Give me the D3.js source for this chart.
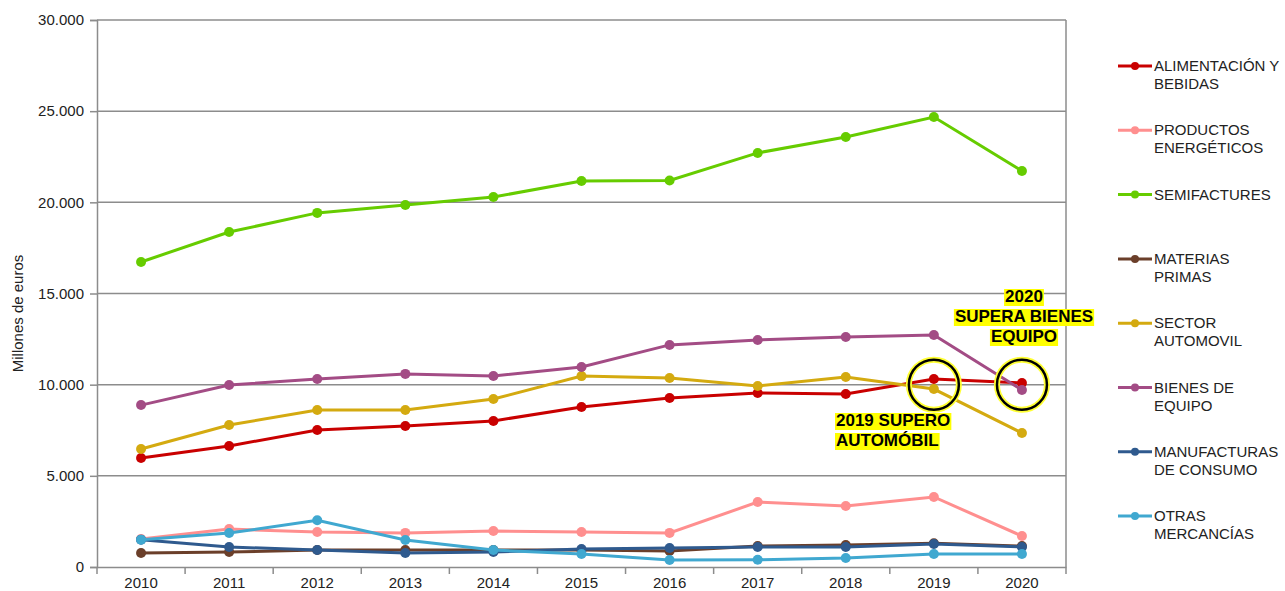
<!DOCTYPE html>
<meta charset="utf-8" />
<head>
  <style>
    body { margin: 0; background: #fff; }
    text { font-family: "Liberation Sans", Arial, sans-serif; }
    .grid line { stroke: #8c8c8c; stroke-width: 1.5; }
    .axis path, .axis line { stroke: #8c8c8c; stroke-width: 1.5; }
    .axis text { font-size: 15px; fill: #222; }
    .legend text { font-size: 15px; fill: #222; }
    .note text { font-size: 17px; font-weight: bold; fill: #000; }
  </style>
  <script src="https://d3js.org/d3.v7.min.js"></script>
</head>
<body>
  <svg width="1285" height="591"></svg>
  <script>
    const years = ["2010", "2011", "2012", "2013", "2014", "2015", "2016", "2017", "2018", "2019", "2020"];
    const yTicks = [0, 5000, 10000, 15000, 20000, 25000, 30000];

    const alimentacion = [5980, 6640, 7510, 7730, 8010, 8780, 9270, 9540, 9490, 10310, 10090];
    const productos = [1540, 2080, 1920, 1870, 1970, 1920, 1870, 3560, 3350, 3840, 1700];
    const semifactures = [16730, 18370, 19420, 19850, 20290, 21170, 21200, 22710, 23580, 24680, 21720];
    const materias = [770, 820, 930, 930, 930, 930, 880, 1150, 1200, 1300, 1150];
    const automovil = [6470, 7790, 8610, 8610, 9210, 10470, 10370, 9930, 10420, 9760, 7350];
    const bienes = [8880, 9980, 10310, 10590, 10480, 10970, 12180, 12450, 12610, 12720, 9710];
    const manufacturas = [1500, 1100, 930, 770, 820, 990, 1040, 1100, 1100, 1260, 1100];
    const otras = [1500, 1860, 2560, 1480, 930, 710, 380, 400, 490, 710, 710];

    const series = [
      { name: ["ALIMENTACIÓN Y", "BEBIDAS"], values: alimentacion, color: "#c90000" },
      { name: ["PRODUCTOS", "ENERGÉTICOS"], values: productos, color: "#ff8f8f" },
      { name: ["SEMIFACTURES"], values: semifactures, color: "#66cc00" },
      { name: ["MATERIAS", "PRIMAS"], values: materias, color: "#6b3f2a" },
      { name: ["SECTOR", "AUTOMOVIL"], values: automovil, color: "#d4aa10" },
      { name: ["BIENES DE", "EQUIPO"], values: bienes, color: "#a34c85" },
      { name: ["MANUFACTURAS", "DE CONSUMO"], values: manufacturas, color: "#2f5a8e" },
      { name: ["OTRAS", "MERCANCÍAS"], values: otras, color: "#40a8d0" }
    ];

    const svg = d3.select("svg");
    const pLeft = 97, pRight = 1066, pTop = 20, pBottom = 567;

    const x = d3.scaleBand().domain(years).range([pLeft, pRight]);
    const y = d3.scaleLinear().domain([0, 30000]).range([pBottom, pTop]);
    const cx = d => x(d) + x.bandwidth() / 2;

    // gridlines
    svg.append("g").attr("class", "grid")
      .selectAll("line").data(yTicks.slice(1)).enter().append("line")
      .attr("x1", pLeft).attr("x2", pRight)
      .attr("y1", d => y(d)).attr("y2", d => y(d));
    svg.append("line").attr("x1", pRight).attr("x2", pRight)
      .attr("y1", pTop).attr("y2", pBottom)
      .attr("stroke", "#8c8c8c").attr("stroke-width", 1.5);

    const fmt = d => d3.format(",")(d).replace(/,/g, ".");

    svg.append("g").attr("class", "axis")
      .attr("transform", "translate(" + pLeft + ",0)")
      .call(d3.axisLeft(y).tickValues(yTicks).tickFormat(fmt).tickSizeOuter(0).tickSize(7).tickPadding(6));

    // x axis: ticks at band boundaries
    const xAxis = svg.append("g").attr("class", "axis")
      .attr("transform", "translate(0," + pBottom + ")");
    xAxis.call(d3.axisBottom(x).tickSize(0).tickSizeOuter(0).tickPadding(10));
    xAxis.selectAll(".tick line").remove();
    xAxis.selectAll("line.bt").data(years.concat(["end"])).enter().append("line")
      .attr("class", "bt")
      .attr("x1", (d, i) => pLeft + i * x.bandwidth()).attr("x2", (d, i) => pLeft + i * x.bandwidth())
      .attr("y1", 0).attr("y2", 7);

    svg.append("text")
      .attr("transform", "translate(23," + ((pTop + pBottom) / 2 + 20) + ") rotate(-90)")
      .attr("text-anchor", "middle")
      .style("font-size", "15px").style("fill", "#222")
      .text("Millones de euros");

    const line = d3.line().x((d, i) => cx(years[i])).y(d => y(d));

    series.forEach(s => {
      const g = svg.append("g");
      g.append("path").datum(s.values)
        .attr("d", line).attr("fill", "none")
        .attr("stroke", s.color).attr("stroke-width", 3);
      g.selectAll("circle").data(s.values).enter().append("circle")
        .attr("cx", (d, i) => cx(years[i])).attr("cy", d => y(d))
        .attr("r", 5).attr("fill", s.color);
    });

    // legend
    const legend = svg.append("g").attr("class", "legend");
    series.forEach((s, i) => {
      const ly = 66 + i * 64.3;
      legend.append("line").attr("x1", 1118).attr("x2", 1152)
        .attr("y1", ly).attr("y2", ly).attr("stroke", s.color).attr("stroke-width", 3);
      legend.append("circle").attr("cx", 1135).attr("cy", ly).attr("r", 4).attr("fill", s.color);
      const t = legend.append("text").attr("x", 1154).attr("y", ly + 5);
      s.name.forEach((n, j) => {
        t.append("tspan").attr("x", 1154).attr("dy", j === 0 ? 0 : 18).text(n);
      });
    });

    // annotation circles
    [["2019", 10000], ["2020", 10000]].forEach(a => {
      svg.append("circle").attr("cx", cx(a[0])).attr("cy", y(a[1]))
        .attr("r", 25).attr("fill", "none").attr("stroke", "#ffff33").attr("stroke-width", 6);
      svg.append("circle").attr("cx", cx(a[0])).attr("cy", y(a[1]))
        .attr("r", 25).attr("fill", "none").attr("stroke", "#000").attr("stroke-width", 2.5);
    });

    function note(lines, ax, ay, anchor) {
      const g = svg.append("g").attr("class", "note");
      lines.forEach((l, i) => {
        const t = g.append("text").attr("x", ax).attr("y", ay + i * 20)
          .attr("text-anchor", anchor).text(l);
        const b = t.node().getBBox();
        g.insert("rect", "text").attr("x", b.x - 1).attr("y", b.y + 2)
          .attr("width", b.width + 2).attr("height", b.height - 2).attr("fill", "#ffff00");
      });
    }
    note(["2019 SUPERO", "AUTOMÓBIL"], 836, 426, "start");
    note(["2020", "SUPERA BIENES", "EQUIPO"], 1024, 302, "middle");
  </script>
</body>
